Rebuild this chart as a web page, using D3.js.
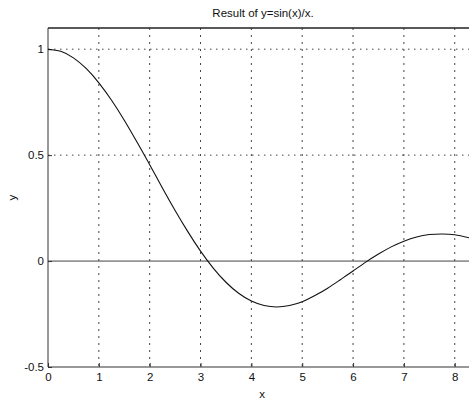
<!DOCTYPE html>
<html>
<head>
<meta charset="utf-8">
<script src="https://cdn.jsdelivr.net/npm/d3@7"></script>
<style>
  body { margin: 0; background: #fff; }
  text { font-family: "Liberation Sans", Arial, sans-serif; fill: #111; }
</style>
</head>
<body>
<div id="chart"></div>
<script>
// values
const xValues = [0, 0.25, 0.5, 0.75, 1, 1.25, 1.5, 1.75, 2, 2.25, 2.5, 2.75, 3, 3.25, 3.5, 3.75,
    4, 4.25, 4.5, 4.75, 5, 5.25, 5.5, 5.75, 6, 6.25, 6.5, 6.75, 7, 7.25, 7.5, 7.75, 8, 8.3];
const yValues = [1, 0.99, 0.959, 0.909, 0.841, 0.759, 0.665, 0.562, 0.455, 0.345, 0.239, 0.139,
    0.047, -0.033, -0.100, -0.152, -0.189, -0.210, -0.217, -0.210, -0.192, -0.163, -0.128, -0.088,
    -0.047, -0.005, 0.033, 0.067, 0.094, 0.114, 0.125, 0.128, 0.124, 0.109];
const xTicks = [0, 1, 2, 3, 4, 5, 6, 7, 8];
const yTicks = [-0.5, 0, 0.5, 1];
const yGrid = [0.5, 1];
const xGrid = [1, 2, 3, 4, 5, 6, 7, 8];

const width = 469, height = 401;
const plot = { left: 48, right: 470, top: 28, bottom: 367 };
const fontSize = '11.5px';

const svg = d3.select('#chart').append('svg')
    .attr('width', width)
    .attr('height', height);

const x = d3.scaleLinear().domain([0, 8.3]).range([plot.left, plot.right]);
const y = d3.scaleLinear().domain([-0.5, 1.1]).range([plot.bottom, plot.top]);

// grid
svg.append('g').selectAll('line')
    .data(xGrid)
    .enter().append('line')
    .attr('x1', d => x(d)).attr('x2', d => x(d))
    .attr('y1', plot.top).attr('y2', plot.bottom)
    .attr('stroke', '#444')
    .attr('stroke-width', 1)
    .attr('stroke-dasharray', '2,5');

svg.append('g').selectAll('line')
    .data(yGrid)
    .enter().append('line')
    .attr('x1', plot.left).attr('x2', plot.right)
    .attr('y1', d => y(d)).attr('y2', d => y(d))
    .attr('stroke', '#444')
    .attr('stroke-width', 1)
    .attr('stroke-dasharray', '1.5,4.5');

// zero line
svg.append('line')
    .attr('x1', plot.left).attr('x2', plot.right)
    .attr('y1', y(0)).attr('y2', y(0))
    .attr('stroke', '#444')
    .attr('stroke-width', 1);

// frame
svg.append('line')
    .attr('x1', plot.left).attr('x2', plot.right)
    .attr('y1', plot.top).attr('y2', plot.top)
    .attr('stroke', '#222').attr('stroke-width', 1.3);

const xAxis = d3.axisBottom(x).tickValues(xTicks).tickSize(4).tickFormat(d3.format('d'));
const yAxis = d3.axisLeft(y).tickValues(yTicks).tickSize(4).tickFormat(d => String(d));

svg.append('g')
    .attr('transform', `translate(0,${plot.bottom})`)
    .call(xAxis)
    .call(g => g.select('.domain').attr('stroke', '#333').attr('d', `M${plot.left},0H${plot.right}`))
    .call(g => g.selectAll('.tick line').attr('y2', -4).attr('stroke', '#333'))
    .call(g => g.selectAll('.tick text').attr('dy', '1.05em').attr('y', 2)
        .style('font-size', fontSize).style('font-family', '"Liberation Sans", Arial, sans-serif'));

svg.append('g')
    .attr('transform', `translate(${plot.left},0)`)
    .call(yAxis)
    .call(g => g.select('.domain').attr('stroke', '#333').attr('d', `M0,${plot.top}V${plot.bottom}`))
    .call(g => g.selectAll('.tick line').attr('x2', 4).attr('stroke', '#333'))
    .call(g => g.selectAll('.tick text').attr('x', -4)
        .style('font-size', fontSize).style('font-family', '"Liberation Sans", Arial, sans-serif'));

// curve
const line = d3.line()
    .x((d, i) => x(xValues[i]))
    .y(d => y(d))
    .curve(d3.curveNatural);

svg.append('path')
    .datum(yValues)
    .attr('fill', 'none')
    .attr('stroke', '#111')
    .attr('stroke-width', 1.1)
    .attr('d', line);

// labels
svg.append('text')
    .attr('x', 263).attr('y', 17)
    .attr('text-anchor', 'middle')
    .style('font-size', fontSize)
    .text('Result of y=sin(x)/x.');

svg.append('text')
    .attr('x', 262).attr('y', 398)
    .attr('text-anchor', 'middle')
    .style('font-size', fontSize)
    .text('x');

svg.append('text')
    .attr('transform', `translate(16,${(plot.top + plot.bottom) / 2}) rotate(-90)`)
    .attr('text-anchor', 'middle')
    .style('font-size', fontSize)
    .text('y');
</script>
</body>
</html>
